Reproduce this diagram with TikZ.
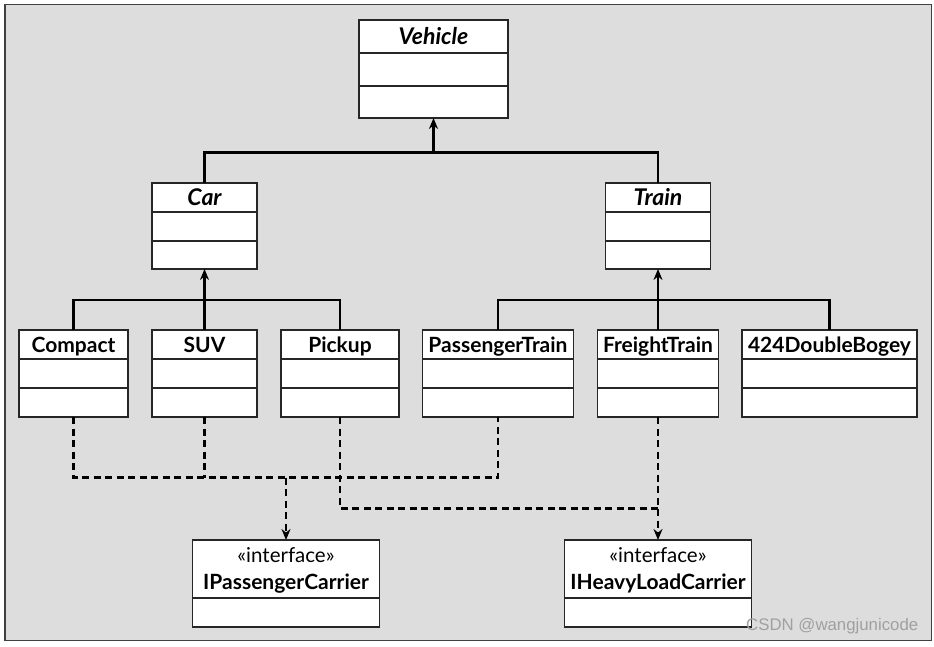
\documentclass[tikz,border=0pt]{standalone}
\usepackage{fontspec}
\setmainfont{Lato}
\newfontfamily\wmfont{Liberation Sans}
\usetikzlibrary{arrows.meta}
\definecolor{bg}{RGB}{221,221,221}
\definecolor{wmgray}{RGB}{160,160,160}
\begin{document}
\begin{tikzpicture}[x=1pt,y=-1pt,
  cls/.style={draw=black!85, fill=white, line width=1.2pt, inner sep=0pt, outer sep=0pt},
  divline/.style={draw=black!85, line width=1.2pt},
  ttl/.style={font=\fontsize{21}{25}\selectfont\bfseries, inner sep=0pt, text height=15pt, text depth=0pt},
  ittl/.style={ttl, font=\fontsize{23}{27}\selectfont\bfseries\itshape, text height=16pt},
  stereo/.style={font=\fontsize{20.5}{24}\selectfont, inner sep=0pt, text height=11pt, text depth=0pt},
  conn/.style={line width=2.1pt, black},
  dep/.style={line width=2.2pt, black, dash pattern=on 7pt off 4.5pt},
  tip/.style={-{Stealth[length=11pt,width=9pt]}}
]
\useasboundingbox (0,0) rectangle (934,646);
\fill[white] (0,0) rectangle (934,646);
\draw[fill=bg, draw=black!75, line width=1.3pt] (5,4.5) rectangle (931.5,640.5);

% Level 1
\node[cls, minimum width=149pt, minimum height=98pt] (vehicle) at (433.5,69) {};
\draw[divline] (vehicle.west |- 0,53) -- (vehicle.east |- 0,53);
\draw[divline] (vehicle.west |- 0,86) -- (vehicle.east |- 0,86);
\node[ittl] (vehicleT) at (433.5,36) {Vehicle};

% Level 2
\node[cls, minimum width=105pt, minimum height=86pt] (car) at (204.5,226) {};
\draw[divline] (car.west |- 0,212) -- (car.east |- 0,212);
\draw[divline] (car.west |- 0,241) -- (car.east |- 0,241);
\node[ittl] (carT) at (204.5,197.5) {Car};

\node[cls, minimum width=105pt, minimum height=86pt] (train) at (658,226) {};
\draw[divline] (train.west |- 0,212) -- (train.east |- 0,212);
\draw[divline] (train.west |- 0,241) -- (train.east |- 0,241);
\node[ittl] (trainT) at (658,197.5) {Train};

% Level 3
\node[cls, minimum width=109pt, minimum height=87pt] (compact) at (73.5,373.5) {};
\node[cls, minimum width=105pt, minimum height=87pt] (suv) at (204.5,373.5) {};
\node[cls, minimum width=118pt, minimum height=87pt] (pickup) at (340,373.5) {};
\node[cls, minimum width=151pt, minimum height=87pt] (passenger) at (498,373.5) {};
\node[cls, minimum width=121pt, minimum height=87pt] (freight) at (658,373.5) {};
\node[cls, minimum width=175pt, minimum height=87pt] (bogey) at (829.5,373.5) {};
\foreach \n in {compact,suv,pickup,passenger,freight,bogey}{
  \draw[divline] (\n.west |- 0,359) -- (\n.east |- 0,359);
  \draw[divline] (\n.west |- 0,388) -- (\n.east |- 0,388);
}
\node[ttl] (compactT) at (73.5,344.5) {Compact};
\node[ttl] (suvT) at (204.5,344.5) {SUV};
\node[ttl] (pickupT) at (340,344.5) {Pickup};
\node[ttl] (passengerT) at (498,344.5) {PassengerTrain};
\node[ttl] (freightT) at (658,344.5) {FreightTrain};
\node[ttl] (bogeyT) at (829.5,344.5) {424DoubleBogey};

% Interfaces
\node[cls, minimum width=187pt, minimum height=87pt] (ipc) at (286,583.5) {};
\draw[divline] (ipc.west |- 0,598) -- (ipc.east |- 0,598);
\node[stereo] (ipcS) at (286,557) {«interface»};
\node[ttl] (ipcT) at (286,581.5) {IPassengerCarrier};

\node[cls, minimum width=187pt, minimum height=87pt] (ihl) at (658,583.5) {};
\draw[divline] (ihl.west |- 0,598) -- (ihl.east |- 0,598);
\node[stereo] (ihlS) at (658,557) {«interface»};
\node[ttl] (ihlT) at (658,581.5) {IHeavyLoadCarrier};

% Generalisation connectors
\coordinate (vj) at (433.5,152.5);
\draw[conn] (car.north) |- (vj) -| (train.north);
\draw[conn,tip] (vj) -- (vehicle.south);

\coordinate (cj) at (204.5,300);
\draw[conn] (compact.north) |- (cj) -| (pickup.north);
\draw[conn,tip] (suv.north) -- (car.south);

\coordinate (tj) at (658,300);
\draw[conn] (passenger.north) |- (tj) -| (bogey.north);
\draw[conn,tip] (freight.north) -- (train.south);

% Realisation connectors
\coordinate (pj) at (286,477.5);
\draw[dep] (compact.south) |- (pj) -| (passenger.south);
\draw[dep] (suv.south) -- (suv.south |- pj);
\draw[dep,tip] (pj) -- (ipc.north);

\coordinate (hj) at (658,508.5);
\draw[dep] (pickup.south) |- (hj);
\draw[dep,tip] (freight.south) -- (ihl.north);

% Watermark
\node[text=wmgray, font=\wmfont\fontsize{16.8}{18}\selectfont, anchor=west, inner sep=0pt] (wm) at (746,626) {CSDN @wangjunicode};
\end{tikzpicture}
\end{document}
